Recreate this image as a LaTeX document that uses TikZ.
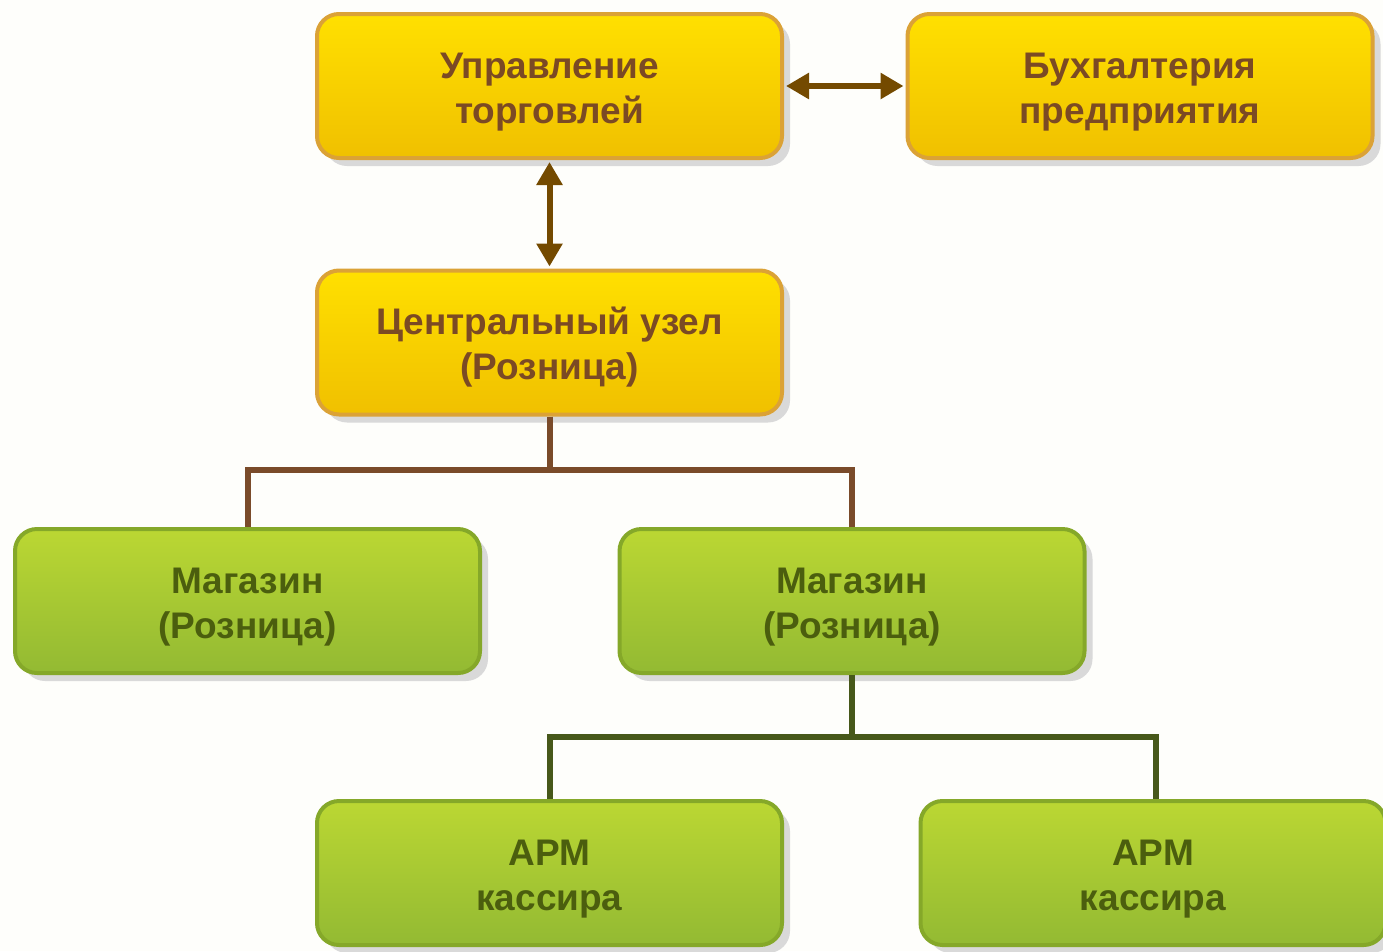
\documentclass[tikz,border=0pt]{standalone}
\usepackage{fontspec}
\setmainfont{Liberation Sans}
\usetikzlibrary{arrows.meta,shadows}
\definecolor{bgc}{HTML}{FEFEFB}
\definecolor{ytop}{HTML}{FFE000}
\definecolor{ybot}{HTML}{F0C000}
\definecolor{yborder}{HTML}{DBA236}
\definecolor{ytext}{HTML}{7B4A24}
\definecolor{gtop}{HTML}{BBD733}
\definecolor{gbot}{HTML}{93BA33}
\definecolor{gborder}{HTML}{85A829}
\definecolor{gtext}{HTML}{4B5E0E}
\definecolor{arrc}{HTML}{744A00}
\definecolor{brownln}{HTML}{7A4B2A}
\definecolor{greenln}{HTML}{47581A}
\definecolor{shadc}{HTML}{D9D9D9}
\begin{document}
\begin{tikzpicture}[x=1pt,y=-1pt,
  box/.style={rounded corners=22pt, minimum width=465pt, minimum height=144pt,
    line width=4pt, align=center, inner sep=0pt, text height=82pt,
    font=\fontsize{37}{45}\selectfont\bfseries,
    drop shadow={shadow xshift=8pt, shadow yshift=-8pt, fill=shadc, opacity=1}},
  ybox/.style={box, draw=yborder, top color=ytop, bottom color=ybot, text=ytext},
  gbox/.style={box, draw=gborder, top color=gtop, bottom color=gbot, text=gtext},
  arr/.style={draw=arrc, line width=6pt, {Triangle[length=23pt,width=25pt]}-{Triangle[length=23pt,width=25pt]}},
  bline/.style={draw=brownln, line width=6pt},
  gline/.style={draw=greenln, line width=6pt}
]
\fill[bgc] (0,0) rectangle (1383,951);
\useasboundingbox (0,0) rectangle (1383,951);

\node[ybox] (b1) at (549.5,86) {Управление\\торговлей};
\node[ybox] (b2) at (1140,86) {Бухгалтерия\\предприятия};
\node[ybox] (b3) at (549.5,342.5) {Центральный узел\\(Розница)};
\node[gbox] (b4) at (247.5,601) {Магазин\\(Розница)};
\node[gbox] (b5) at (852,601) {Магазин\\(Розница)};
\node[gbox] (b6) at (549.5,873) {АРМ\\кассира};
\node[gbox] (b7) at (1153,873) {АРМ\\кассира};

\draw[arr, shorten <=2pt, shorten >=2pt] (b1.east) -- (b2.west);
\draw[arr, shorten <=2pt, shorten >=2pt] (b1.south) -- (b3.north);

\draw[bline] (b3.south) -- ++(0,53) -| (b4.north);
\draw[bline] (b3.south) -- ++(0,53) -| (b5.north);

\draw[gline] (b5.south) -- ++(0,62) -| (b6.north);
\draw[gline] (b5.south) -- ++(0,62) -| ([xshift=3pt]b7.north);
\end{tikzpicture}
\end{document}
